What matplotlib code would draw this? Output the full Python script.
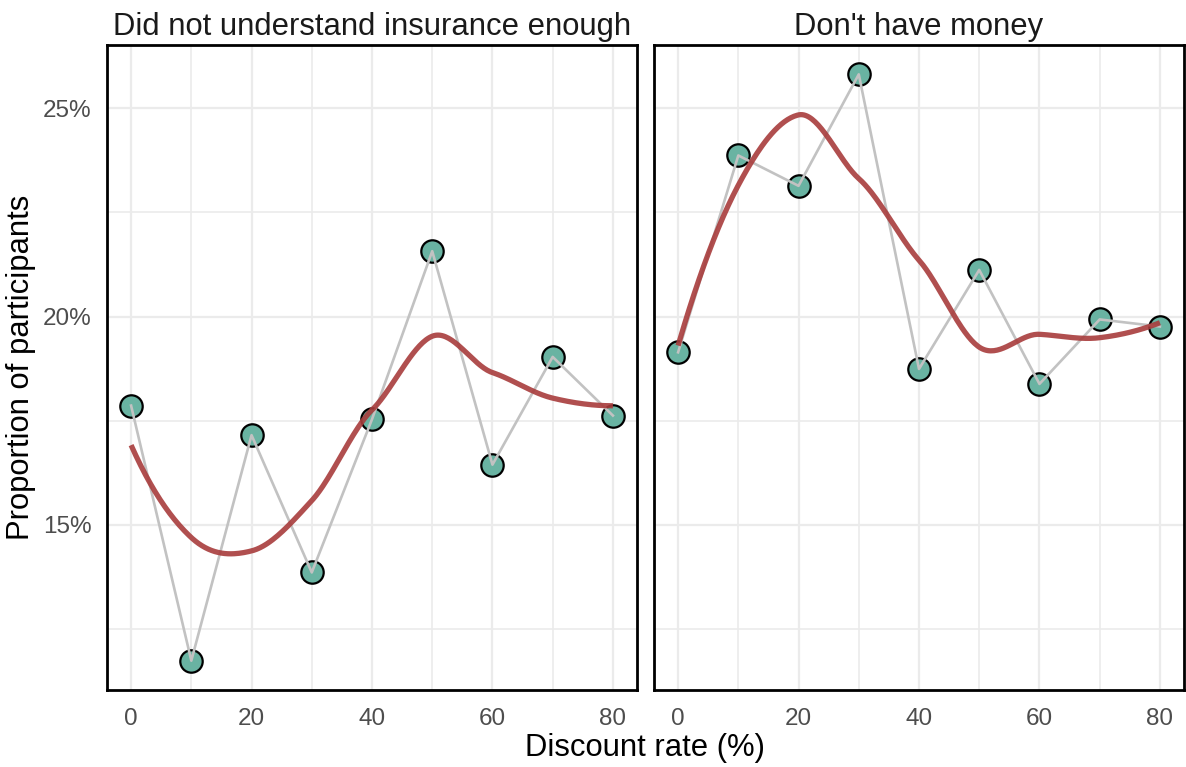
import numpy as np
import matplotlib
matplotlib.use("Agg")
import matplotlib.pyplot as plt
from matplotlib.ticker import FuncFormatter, MultipleLocator

plt.rcParams['font.family'] = ['Liberation Sans', 'DejaVu Sans']

discount = [0, 10, 20, 30, 40, 50, 60, 70, 80]
panel_titles = ["Did not understand insurance enough", "Don't have money"]
prop_understand = [17.86, 11.73, 17.15, 13.85, 17.53, 21.57, 16.44, 19.03, 17.62]
prop_money = [19.14, 23.87, 23.14, 25.82, 18.74, 21.12, 18.38, 19.93, 19.76]
series = [prop_understand, prop_money]


def local_fit(x, y, x0, q):
    n = len(x)
    d = np.abs(x - x0)
    h = np.sort(d)[q - 1]
    u = np.clip(d / h, 0, 1)
    w = (1 - u ** 3) ** 3
    X = np.vstack([np.ones(n), x - x0, (x - x0) ** 2]).T
    W = np.diag(w)
    beta = np.linalg.lstsq(X.T @ W @ X, X.T @ W @ y, rcond=None)[0]
    return beta[0], beta[1]


def kd_vertices(xs, fc, lo_b, hi_b):
    pts = sorted(xs)
    verts = []

    def rec(l, u, lb, hb):
        if u - l + 1 <= fc:
            return
        m = (l + u) // 2
        v = pts[m]
        if v == lb or v == hb:
            return
        verts.append(v)
        rec(l, m, lb, v)
        rec(m + 1, u, v, hb)

    rec(0, len(pts) - 1, lo_b, hi_b)
    return verts


def loess_smooth(x, y, xs, span=0.75):
    x = np.asarray(x, float)
    y = np.asarray(y, float)
    n = len(x)
    q = int(np.floor(n * span))
    fc = int(np.floor(n * span * 0.2))
    mu = 0.005 * (x.max() - x.min())
    lo_b, hi_b = x.min() - mu, x.max() + mu
    verts = sorted(set([lo_b, hi_b] + kd_vertices(list(x), fc, lo_b, hi_b)))
    vals = [local_fit(x, y, v, q) for v in verts]
    out = []
    for t in xs:
        k = np.searchsorted(verts, t, side='right') - 1
        k = min(max(k, 0), len(verts) - 2)
        a, b = verts[k], verts[k + 1]
        (fa, da), (fb, db) = vals[k], vals[k + 1]
        hlen = b - a
        s = (t - a) / hlen
        h00 = 2 * s ** 3 - 3 * s ** 2 + 1
        h10 = s ** 3 - 2 * s ** 2 + s
        h01 = -2 * s ** 3 + 3 * s ** 2
        h11 = s ** 3 - s ** 2
        out.append(h00 * fa + h10 * hlen * da + h01 * fb + h11 * hlen * db)
    return np.array(out)


fig = plt.figure(figsize=(11.86, 7.67), dpi=100)
lefts = [107 / 1186, 654 / 1186]
width = 530 / 1186
bottom = 1 - 690 / 767
height = (690 - 45) / 767

allv = np.concatenate(series)
lo, hi = allv.min(), allv.max()
pad = (hi - lo) * 0.05
ylim = (lo - pad, hi + pad)

for i, (left, title, vals) in enumerate(zip(lefts, panel_titles, series)):
    ax = fig.add_axes([left, bottom, width, height])
    ax.set_facecolor('white')
    xs = np.linspace(0, 80, 300)
    sm = loess_smooth(discount, vals, xs)
    ax.scatter(discount, vals, s=260, facecolor='#69b3a2', edgecolor='black',
               linewidth=1.6, zorder=3)
    ax.plot(discount, vals, color='#c2c2c2', lw=1.9, zorder=4)
    ax.plot(xs, sm, color='#a83c3c', lw=3.8, alpha=0.9, zorder=5,
            solid_capstyle='butt')
    ax.set_xlim(-4, 84)
    ax.set_ylim(*ylim)
    ax.xaxis.set_major_locator(MultipleLocator(20))
    ax.xaxis.set_minor_locator(MultipleLocator(10))
    ax.yaxis.set_major_locator(MultipleLocator(5))
    ax.yaxis.set_minor_locator(MultipleLocator(2.5))
    ax.grid(which='major', color='#ebebeb', lw=1.6, zorder=0)
    ax.grid(which='minor', color='#ebebeb', lw=1.2, zorder=0)
    ax.set_axisbelow(True)
    for sp in ax.spines.values():
        sp.set_linewidth(2.0)
        sp.set_color('black')
    ax.tick_params(which='both', length=0, labelsize=17.5, colors='#4d4d4d')
    ax.tick_params(axis='y', pad=11)
    ax.tick_params(axis='x', pad=13)
    ax.yaxis.set_major_formatter(FuncFormatter(lambda v, p: f"{v:.0f}%"))
    if i == 1:
        ax.tick_params(axis='y', labelleft=False)
    ax.set_title(title, fontsize=22.3, color='#1a1a1a', pad=7)
    if i == 0:
        ax.set_ylabel("Proportion of participants", fontsize=22.3, color='black', labelpad=5)

fig.text((107 + 1183) / 2 / 1186, 1 - 748 / 767, "Discount rate (%)", ha='center',
         va='center', fontsize=22.3, color='black')

fig.savefig("out.png", dpi=100, facecolor='white')
